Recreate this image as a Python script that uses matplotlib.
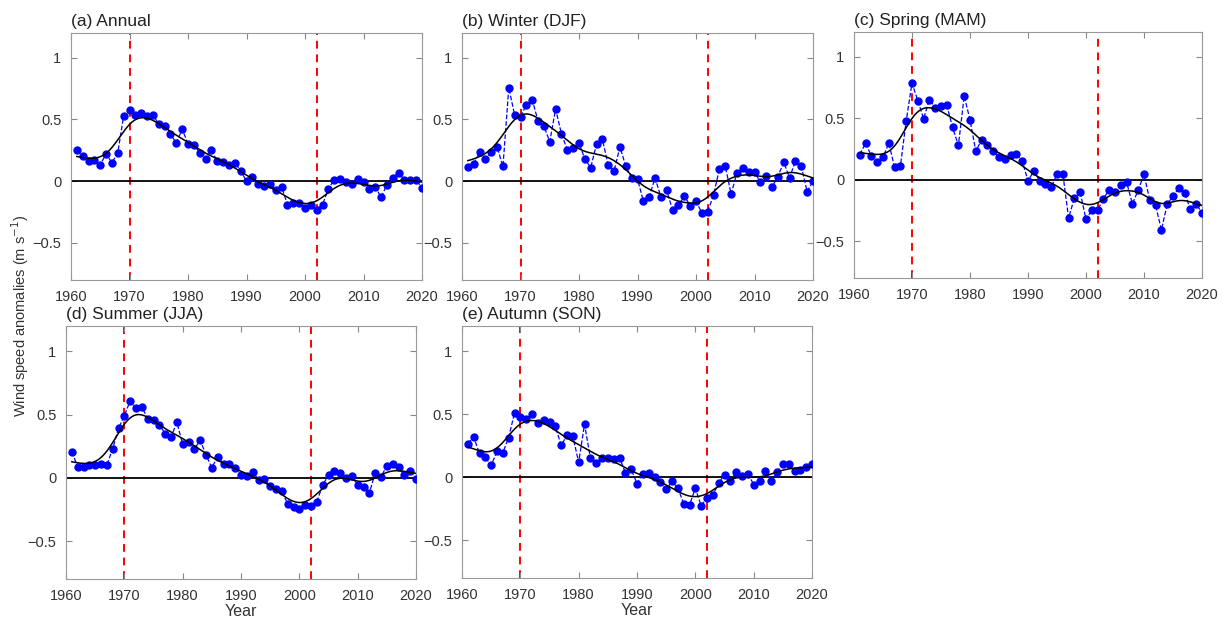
import numpy as np
import matplotlib.pyplot as plt

plt.rcParams['font.family'] = ['Liberation Sans', 'DejaVu Sans']

years = np.arange(1961, 2021)

annual = [0.25, 0.20, 0.16, 0.17, 0.135, 0.22, 0.15, 0.23, 0.53, 0.575,
          0.54, 0.55, 0.53, 0.54, 0.46, 0.45, 0.38, 0.31, 0.42, 0.305,
          0.295, 0.23, 0.18, 0.255, 0.16, 0.155, 0.135, 0.15, 0.085, 0.0,
          0.03, -0.025, -0.04, -0.02, -0.07, -0.045, -0.19, -0.175, -0.18, -0.22,
          -0.19, -0.23, -0.19, -0.06, 0.01, 0.015, -0.01, -0.025, 0.015, -0.003,
          -0.06, -0.045, -0.13, -0.03, 0.025, 0.07, 0.01, 0.01, 0.01, -0.055]

winter = [0.115, 0.14, 0.235, 0.18, 0.235, 0.275, 0.12, 0.757, 0.535, 0.52,
          0.62, 0.66, 0.487, 0.446, 0.32, 0.584, 0.384, 0.254, 0.265, 0.31,
          0.18, 0.11, 0.30, 0.338, 0.13, 0.084, 0.278, 0.12, 0.025, 0.02,
          -0.162, -0.127, 0.027, -0.127, -0.075, -0.235, -0.195, -0.12, -0.197, -0.162,
          -0.257, -0.246, -0.113, 0.10, 0.124, -0.105, 0.068, 0.105, 0.076, 0.078,
          -0.01, 0.043, -0.046, 0.038, 0.154, 0.027, 0.165, 0.12, -0.084, 0.0]

spring = [0.203, 0.297, 0.19, 0.14, 0.18, 0.297, 0.10, 0.11, 0.478, 0.784,
          0.643, 0.495, 0.65, 0.586, 0.60, 0.603, 0.424, 0.278, 0.68, 0.486,
          0.23, 0.324, 0.28, 0.23, 0.184, 0.168, 0.197, 0.208, 0.15, -0.01,
          0.07, -0.008, -0.038, -0.06, 0.043, 0.049, -0.313, -0.149, -0.103, -0.324,
          -0.249, -0.251, -0.154, -0.086, -0.103, -0.043, -0.022, -0.197, -0.086, 0.043,
          -0.168, -0.208, -0.41, -0.2, -0.135, -0.068, -0.108, -0.243, -0.2, -0.27]

summer = [0.206, 0.087, 0.087, 0.10, 0.098, 0.106, 0.10, 0.23, 0.39, 0.49,
          0.608, 0.55, 0.56, 0.468, 0.455, 0.42, 0.35, 0.32, 0.44, 0.265,
          0.283, 0.225, 0.30, 0.18, 0.08, 0.167, 0.11, 0.11, 0.08, 0.02,
          0.018, 0.048, -0.016, -0.013, -0.066, -0.085, -0.108, -0.204, -0.23, -0.25,
          -0.214, -0.22, -0.19, -0.056, 0.02, 0.053, 0.04, -0.005, 0.013, -0.06,
          -0.07, -0.12, 0.037, 0.008, 0.095, 0.108, 0.082, 0.02, 0.053, -0.008]

autumn = [0.267, 0.317, 0.19, 0.157, 0.094, 0.204, 0.194, 0.315, 0.51, 0.477,
          0.465, 0.50, 0.428, 0.454, 0.436, 0.404, 0.252, 0.333, 0.325, 0.118,
          0.42, 0.155, 0.11, 0.152, 0.152, 0.147, 0.155, 0.037, 0.063, -0.05,
          0.029, 0.031, 0.003, -0.042, -0.097, -0.034, -0.084, -0.21, -0.22, -0.089,
          -0.226, -0.163, -0.142, -0.047, 0.021, -0.031, 0.042, 0.01, 0.029, -0.058,
          -0.029, 0.047, -0.034, 0.042, 0.108, 0.102, 0.05, 0.06, 0.081, 0.102]

titles = ['(a) Annual', '(b) Winter (DJF)', '(c) Spring (MAM)',
          '(d) Summer (JJA)', '(e) Autumn (SON)']
series = [annual, winter, spring, summer, autumn]
shifts = [1970, 2002]


def smooth(x, y, xs, sigma=2.2):
    # gaussian kernel low-pass of the yearly values
    w = np.exp(-0.5 * ((xs[:, None] - x[None, :]) / sigma) ** 2)
    return (w * y[None, :]).sum(1) / w.sum(1)


# axes boxes in pixels: left, top, right, bottom
boxes = [(71, 33, 422, 280), (462, 33, 813, 280), (854, 32, 1202, 278),
         (66, 326, 416, 579), (462, 326, 812, 578)]

W, H = 1223, 618
fig = plt.figure(figsize=(W / 100, H / 100), dpi=100)

for i in range(5):
    l, t, r, b = boxes[i]
    ax = fig.add_axes([l / W, 1 - b / H, (r - l) / W, (b - t) / H])
    y = np.array(series[i])
    xs = np.linspace(1961, 2020, 400)
    for s in shifts:
        ax.axvline(s, color='#ff0000', ls=(0, (4, 3)), lw=1.4, zorder=1)
    ax.axhline(0, color='black', lw=1.3, zorder=2)
    ax.plot(years, y, color='#0000ff', ls='--', lw=0.9, marker='o', ms=5, zorder=3)
    ax.plot(xs, smooth(years, y, xs), color='black', lw=1.1, zorder=4)
    ax.set_xlim(1960, 2020)
    ax.set_ylim(-0.8, 1.2)
    ax.set_xticks([1960, 1970, 1980, 1990, 2000, 2010, 2020])
    ax.set_yticks([-0.5, 0, 0.5, 1])
    ax.set_yticklabels(['\u22120.5', '0', '0.5', '1'])
    ax.tick_params(direction='in', top=True, right=True, labelsize=10.5,
                   color='#888888', labelcolor='#333333', length=4, pad=7)
    for sp in ax.spines.values():
        sp.set_color('#999999')
        sp.set_linewidth(0.8)
    ax.text(0.0, 1.015, titles[i], transform=ax.transAxes, fontsize=12.5,
            ha='left', va='bottom', color='#222222')
    if i >= 3:
        ax.set_xlabel('Year', fontsize=11.5, labelpad=1, color='#333333')

fig.text(20 / W, 1 - 316 / H, 'Wind speed anomalies (m s$^{-1}$)',
         rotation=90, ha='center', va='center', fontsize=10.5, color='#333333')

fig.savefig('out.png', dpi=100)
